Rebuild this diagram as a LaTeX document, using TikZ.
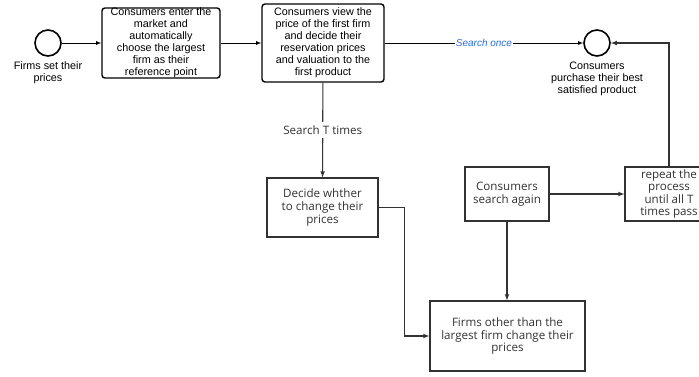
\documentclass[tikz,border=0pt]{standalone}
\usepackage{fontspec}
\setmainfont{Liberation Sans}
\newfontfamily\boxfont{Open Sans}
\usetikzlibrary{positioning,arrows}
\definecolor{labelblue}{RGB}{40,110,220}
\definecolor{boxgray}{RGB}{50,50,50}

\begin{document}
\begin{tikzpicture}[x=1pt,y=-1pt,font=\fontsize{10.8}{12}\selectfont,>=latex,
  event/.style={circle,draw,line width=1.6pt,minimum size=26pt,inner sep=0pt},
  task/.style={draw,line width=1.4pt,rounded corners=3pt,align=center,inner sep=0pt},
  stepbox/.style={draw=boxgray,line width=1.2pt,align=center,text=boxgray,inner sep=1pt,
    font=\boxfont\fontsize{11.6}{12.6}\selectfont},
  flow/.style={->,line width=0.8pt},
  loopflow/.style={->,line width=1.1pt,draw=boxgray}]

\useasboundingbox (0,0) rectangle (699,376);

% top row
\node[event] (start) at (48,43) {};
\node[below=1pt of start,align=center] (startlbl) {Firms set their\\prices};
\node[task,minimum width=118pt,minimum height=70pt] (enter) at (161,43)
  {Consumers enter the\\market and\\automatically\\choose the largest\\firm as their\\reference point};
\node[task,minimum width=122pt,minimum height=78pt] (view) at (323,43)
  {Consumers view the\\price of the first firm\\and decide their\\reservation prices\\and valuation to the\\first product};
\node[event] (buy) at (597,43) {};
\node[below=2pt of buy,align=center] (buylbl) {Consumers\\purchase their best\\satisfied product};

% lower part
\node[stepbox,minimum width=111pt,minimum height=59pt] (decide) at (322.5,207.5)
  {Decide whther\\to change their\\prices};
\node[stepbox,minimum width=84pt,minimum height=54pt] (again) at (507,194)
  {Consumers\\search again};
\node[stepbox,minimum width=88pt,minimum height=54pt] (repeat) at (669,194)
  {repeat the\\process\\until all T\\times pass};
\node[stepbox,minimum width=155pt,minimum height=70pt] (change) at (507.5,336)
  {Firms other than the\\largest firm change their\\prices};

\draw[flow] (start) -- (enter);
\draw[flow] (enter) -- (view);
\draw[flow] (view) -- node[fill=white,inner sep=1pt,text=labelblue,font=\itshape] {Search once} (buy);
\draw[loopflow] (view) -- node[fill=white,text=boxgray,font=\boxfont\fontsize{11.6}{12}\selectfont] {Search T times} (decide);
\draw[loopflow] (decide.east) -- ++(26,0) |- (change);
\draw[loopflow] (again) -- (again |- change.north);
\draw[loopflow] (again) -- (repeat);
\draw[loopflow] (repeat.north) |- (buy);

\end{tikzpicture}
\end{document}
